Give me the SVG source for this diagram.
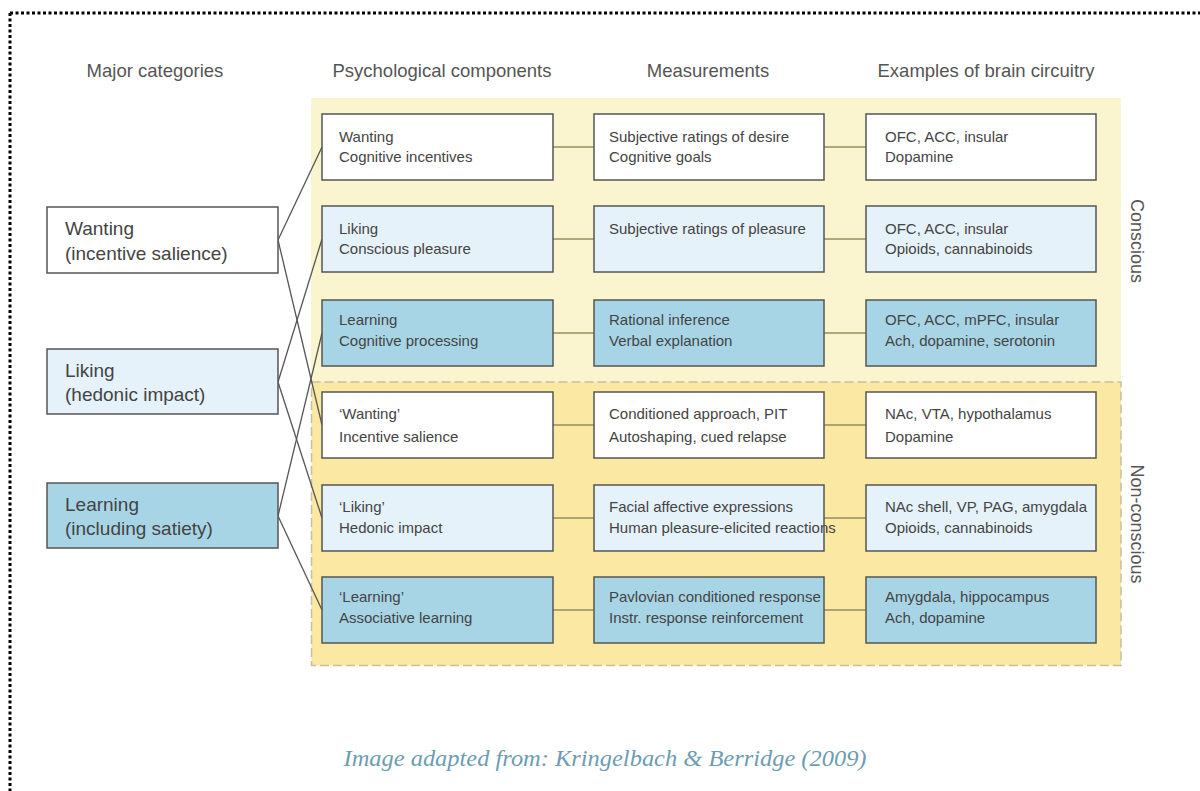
<svg xmlns="http://www.w3.org/2000/svg" width="1200" height="791" viewBox="0 0 1200 791">
<style>
.hdr{font-family:"Liberation Sans",Arial,sans-serif;font-size:18.5px;fill:#555;}
.big{font-family:"Liberation Sans",Arial,sans-serif;font-size:19px;fill:#444;}
.t{font-family:"Liberation Sans",Arial,sans-serif;font-size:15px;fill:#444;}
.box{stroke:#555;stroke-width:1.5;}
.w{fill:#ffffff;}
.lb{fill:#e5f2f9;}
.b{fill:#a8d5e6;}
.side{font-family:"Liberation Sans",Arial,sans-serif;font-size:18px;fill:#555;}
</style>
<rect width="1200" height="791" fill="#ffffff"/>
<g id="frame" fill="none" stroke="#000" stroke-width="3" stroke-dasharray="3 2.5">
<line x1="10" y1="13" x2="1200" y2="13"/>
<line x1="10" y1="13" x2="10" y2="791"/>
</g>
<g id="regions">
<rect x="311" y="98" width="810" height="284" fill="#faf5cf"/>
<rect x="311.5" y="382" width="809.5" height="283.5" fill="#fbe8a2" stroke="#c8bfa3" stroke-width="1.5" stroke-dasharray="9 4"/>
</g>
<g id="headers">
<text class="hdr" x="155" y="77" text-anchor="middle">Major categories</text>
<text class="hdr" x="442" y="77" text-anchor="middle">Psychological components</text>
<text class="hdr" x="708" y="77" text-anchor="middle">Measurements</text>
<text class="hdr" x="986" y="77" text-anchor="middle">Examples of brain circuitry</text>
</g>
<g id="connectors" fill="none">
<g stroke="#555" stroke-width="1.3">
<line x1="278" y1="240" x2="322" y2="147"/>
<line x1="278" y1="240" x2="322" y2="425"/>
<line x1="278" y1="382" x2="322" y2="239"/>
<line x1="278" y1="382" x2="322" y2="518"/>
<line x1="278" y1="516" x2="322" y2="333"/>
<line x1="278" y1="516" x2="322" y2="610"/>
</g>
<g stroke="#958f62" stroke-width="1.3">
<line x1="553" y1="147" x2="594" y2="147"/><line x1="824" y1="147" x2="866" y2="147"/>
<line x1="553" y1="239" x2="594" y2="239"/><line x1="824" y1="239" x2="866" y2="239"/>
<line x1="553" y1="333" x2="594" y2="333"/><line x1="824" y1="333" x2="866" y2="333"/>
<line x1="553" y1="425" x2="594" y2="425"/><line x1="824" y1="425" x2="866" y2="425"/>
<line x1="553" y1="518" x2="594" y2="518"/><line x1="824" y1="518" x2="866" y2="518"/>
<line x1="553" y1="610" x2="594" y2="610"/><line x1="824" y1="610" x2="866" y2="610"/>
</g>
</g>
<g id="cat-wanting"><rect class="box w" x="47" y="207" width="231" height="66"/><text class="big" x="65" y="235">Wanting</text><text class="big" x="65" y="260">(incentive salience)</text></g>
<g id="cat-liking"><rect class="box lb" x="47" y="349" width="231" height="65"/><text class="big" x="65" y="377">Liking</text><text class="big" x="65" y="401">(hedonic impact)</text></g>
<g id="cat-learning"><rect class="box b" x="47" y="483" width="231" height="65"/><text class="big" x="65" y="511">Learning</text><text class="big" x="65" y="535">(including satiety)</text></g>

<g id="p1"><rect class="box w" x="322" y="114" width="231" height="66"/><text class="t" x="339" y="142">Wanting</text><text class="t" x="339" y="162">Cognitive incentives</text></g>
<g id="m1"><rect class="box w" x="594" y="114" width="230" height="66"/><text class="t" x="609" y="142">Subjective ratings of desire</text><text class="t" x="609" y="162">Cognitive goals</text></g>
<g id="c1"><rect class="box w" x="866" y="114" width="230" height="66"/><text class="t" x="885" y="142">OFC, ACC, insular</text><text class="t" x="885" y="162">Dopamine</text></g>

<g id="p2"><rect class="box lb" x="322" y="206" width="231" height="66"/><text class="t" x="339" y="234">Liking</text><text class="t" x="339" y="254">Conscious pleasure</text></g>
<g id="m2"><rect class="box lb" x="594" y="206" width="230" height="66"/><text class="t" x="609" y="234">Subjective ratings of pleasure</text></g>
<g id="c2"><rect class="box lb" x="866" y="206" width="230" height="66"/><text class="t" x="885" y="234">OFC, ACC, insular</text><text class="t" x="885" y="254">Opioids, cannabinoids</text></g>

<g id="p3"><rect class="box b" x="322" y="300" width="231" height="66"/><text class="t" x="339" y="325">Learning</text><text class="t" x="339" y="346">Cognitive processing</text></g>
<g id="m3"><rect class="box b" x="594" y="300" width="230" height="66"/><text class="t" x="609" y="325">Rational inference</text><text class="t" x="609" y="346">Verbal explanation</text></g>
<g id="c3"><rect class="box b" x="866" y="300" width="230" height="66"/><text class="t" x="885" y="325">OFC, ACC, mPFC, insular</text><text class="t" x="885" y="346">Ach, dopamine, serotonin</text></g>

<g id="p4"><rect class="box w" x="322" y="392" width="231" height="66"/><text class="t" x="339" y="419">‘Wanting’</text><text class="t" x="339" y="442">Incentive salience</text></g>
<g id="m4"><rect class="box w" x="594" y="392" width="230" height="66"/><text class="t" x="609" y="419">Conditioned approach, PIT</text><text class="t" x="609" y="442">Autoshaping, cued relapse</text></g>
<g id="c4"><rect class="box w" x="866" y="392" width="230" height="66"/><text class="t" x="885" y="419">NAc, VTA, hypothalamus</text><text class="t" x="885" y="442">Dopamine</text></g>

<g id="p5"><rect class="box lb" x="322" y="485" width="231" height="66"/><text class="t" x="339" y="512">‘Liking’</text><text class="t" x="339" y="533">Hedonic impact</text></g>
<g id="m5"><rect class="box lb" x="594" y="485" width="230" height="66"/><text class="t" x="609" y="512">Facial affective expressions</text><text class="t" x="609" y="533">Human pleasure-elicited reactions</text></g>
<g id="c5"><rect class="box lb" x="866" y="485" width="230" height="66"/><text class="t" x="885" y="512">NAc shell, VP, PAG, amygdala</text><text class="t" x="885" y="533">Opioids, cannabinoids</text></g>

<g id="p6"><rect class="box b" x="322" y="577" width="231" height="66"/><text class="t" x="339" y="602">‘Learning’</text><text class="t" x="339" y="623">Associative learning</text></g>
<g id="m6"><rect class="box b" x="594" y="577" width="230" height="66"/><text class="t" x="609" y="602">Pavlovian conditioned response</text><text class="t" x="609" y="623">Instr. response reinforcement</text></g>
<g id="c6"><rect class="box b" x="866" y="577" width="230" height="66"/><text class="t" x="885" y="602">Amygdala, hippocampus</text><text class="t" x="885" y="623">Ach, dopamine</text></g>

<g id="side-labels">
<text class="side" transform="translate(1131,241) rotate(90)" text-anchor="middle">Conscious</text>
<text class="side" transform="translate(1131,524) rotate(90)" text-anchor="middle">Non-conscious</text>
</g>
<text x="605" y="766" text-anchor="middle" font-family="'Liberation Serif','DejaVu Serif',serif" font-style="italic" font-size="23" fill="#6c9db2" textLength="523" lengthAdjust="spacingAndGlyphs">Image adapted from: Kringelbach &amp; Berridge (2009)</text>
</svg>
